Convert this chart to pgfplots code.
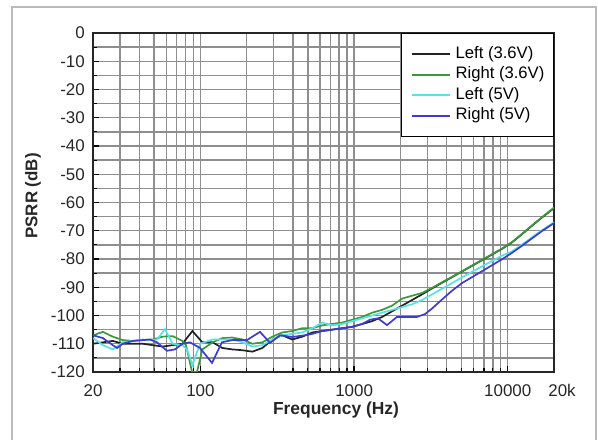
\documentclass[border=0pt]{standalone}
\usepackage{fontspec}
\setmainfont{Liberation Sans}
\usepackage{pgfplots}
\pgfplotsset{compat=1.18}
\definecolor{lblack}{HTML}{222222}
\definecolor{lgreen}{HTML}{3A9A3A}
\definecolor{lcyan}{HTML}{55E2EA}
\definecolor{lblue}{HTML}{3C3CD2}
\definecolor{gridgray}{HTML}{8E8E8E}
\definecolor{framegray}{HTML}{BBBBBB}
\begin{document}
\begin{tikzpicture}[x=1bp,y=1bp]
\useasboundingbox (0,0) rectangle (598,440);
\draw[framegray, line width=1.5bp] (12,0) -- (12,433) -- (596,433) -- (596,0);
\begin{axis}[
  at={(93bp,68bp)}, anchor=south west,
  width=461bp, height=339bp, scale only axis,
  xmode=log, xmin=20, xmax=20000, ymin=-120, ymax=0,
  xtick={20,100,1000,10000,20000},
  xticklabels={20,100,1000,10000,\hspace*{16bp}20k},
  minor xtick={30,40,50,60,70,80,90,200,300,400,500,600,700,800,900,2000,3000,4000,5000,6000,7000,8000,9000},
  ytick={-120,-110,...,0},
  yticklabels={-120,-110,-100,-90,-80,-70,-60,-50,-40,-30,-20,-10,0},
  minor ytick={-115,-105,...,-5},
  grid=both,
  major grid style={draw=gridgray, line width=1.4bp},
  minor grid style={draw=gridgray, line width=1.4bp},
  tick align=inside, tick pos=left,
  major tick length=6bp, minor tick length=4bp,
  tick style={black, line width=1.2bp},
  axis line style={draw=black!85, line width=1.8bp},
  ticklabel style={font=\fontsize{17}{19}\selectfont, text=black!85},
  xticklabel style={inner sep=0pt, anchor=north, yshift=-12bp},
  yticklabel style={inner sep=0pt, anchor=east, xshift=-8bp},
  legend cell align=left,
  legend style={at={(1,1)}, anchor=north east, draw=black, line width=1.2bp,
    fill=white, font=\fontsize{16.7}{18}\selectfont,
    inner xsep=9bp, inner ysep=13.5bp, row sep=6bp, column sep=5bp,
    nodes={inner sep=0pt, text height=11bp, text depth=3.5bp}},
  legend image code/.code={\draw[#1] (0bp,0bp) -- (38bp,0bp);},
  legend image post style={line width=1.8bp},
  every axis plot/.append style={line width=1.7bp},
]
\addplot[lblack] coordinates {
(20,-110) (23.2,-109.5) (26.9,-109) (31.2,-110) (36.3,-110) (42.1,-110)
(49,-110.5) (56.7,-111) (65.9,-110.5) (76.4,-110) (88.7,-105.5) (103,-109.5)
(120,-109.5) (139,-111.5) (161,-112) (188,-112.3) (218,-112.8) (253,-111.5)
(294,-108.5) (341,-107) (396,-108.5) (460,-107.5) (535,-106) (621,-105.5)
(721,-105) (838,-104.5) (973,-104) (1130,-103) (1312,-102) (1524,-100.5)
(1770,-98.5) (2056,-96.5) (2388,-94.5) (2773,-92.5) (3221,-90.4) (3741,-88.4)
(4345,-86.4) (5047,-84.4) (5862,-82.4) (6808,-80.4) (7908,-78.4) (9184,-76.4)
(10667,-74.1) (12390,-71.2) (14390,-68.2) (16714,-65.3) (20000,-62)
};
\addlegendentry{Left (3.6V)}
\addplot[lgreen] coordinates {
(20,-107) (23.2,-105.8) (26.9,-107.5) (31.2,-108.7) (36.3,-109) (42.1,-108.7)
(49,-108.5) (56.7,-107.5) (65.9,-107.3) (76.4,-109) (80.6,-110.5) (88.2,-120)
(95,-120) (103,-112) (120,-109.5) (139,-108) (161,-107.8) (188,-108.5)
(218,-110) (253,-109.5) (294,-107.5) (341,-106) (396,-105.5) (460,-104.5)
(535,-104.5) (621,-103.5) (721,-103) (838,-102.5) (973,-101.5) (1130,-100.5)
(1312,-99) (1524,-98) (1770,-96.5) (2056,-94) (2388,-93) (2773,-92)
(3221,-90.2) (3741,-88.2) (4345,-86.3) (5047,-84.3) (5862,-82.3) (6808,-80.3)
(7908,-78.3) (9184,-76.3) (10667,-74) (12390,-71.1) (14390,-68.1) (16714,-65.2)
(20000,-61.8)
};
\addlegendentry{Right (3.6V)}
\addplot[lcyan] coordinates {
(20,-108) (23.2,-110.5) (26.9,-112) (31.2,-109.5) (36.3,-109) (42.1,-108.5)
(49,-108.7) (52.2,-108.5) (58.8,-104.8) (65.9,-110) (76.4,-110.5) (81.8,-112)
(88.7,-117.5) (99.4,-110) (120,-108.5) (139,-108.5) (161,-108.5) (188,-109.5)
(218,-111) (253,-110.5) (294,-108.5) (341,-107) (396,-106.5) (460,-106)
(535,-104.5) (621,-102.5) (721,-103.5) (838,-103) (973,-102) (1130,-101)
(1312,-100) (1524,-99) (1770,-98) (2056,-97) (2388,-96) (2773,-94.5)
(3221,-92.5) (3741,-90.5) (4345,-88.5) (5047,-86.5) (5862,-84.5) (6808,-82.6)
(7908,-80.7) (9184,-78.8) (10667,-77.3) (12390,-74.9) (14390,-72.3) (16714,-69.8)
(20000,-67)
};
\addlegendentry{Left (5V)}
\addplot[lblue] coordinates {
(20,-107) (23.2,-108) (26.9,-110.5) (28.7,-111.5) (31.2,-110) (36.3,-109)
(42.1,-108.7) (47,-108.5) (52.2,-109.5) (60.6,-112.5) (68.3,-112) (76.4,-110)
(85.5,-109.5) (99.4,-111.5) (119,-116.8) (138,-109.5) (161,-108.7) (201,-108.7)
(244,-105.8) (284,-109.7) (330,-107) (396,-107.6) (479,-107) (535,-106.5)
(621,-105.5) (721,-105) (838,-104.5) (973,-104) (1130,-103) (1269,-101.5)
(1431,-101) (1638,-103.4) (1902,-100.5) (2210,-100.5) (2567,-100.5) (2894,-99.5)
(3221,-97.5) (3741,-94.3) (4345,-91.2) (5047,-88.5) (5862,-86.4) (6808,-84.3)
(7908,-82.2) (9184,-80.1) (10667,-77.8) (12390,-75.3) (14390,-72.7) (16714,-70.1)
(20000,-67.3)
};
\addlegendentry{Right (5V)}
\end{axis}
\node[font=\fontsize{17.5}{19}\selectfont\bfseries, text=black!85] at (336,30) {Frequency (Hz)};
\node[rotate=90, font=\fontsize{17}{19}\selectfont\bfseries, text=black!85] at (33,244) {PSRR (dB)};
\end{tikzpicture}
\end{document}
